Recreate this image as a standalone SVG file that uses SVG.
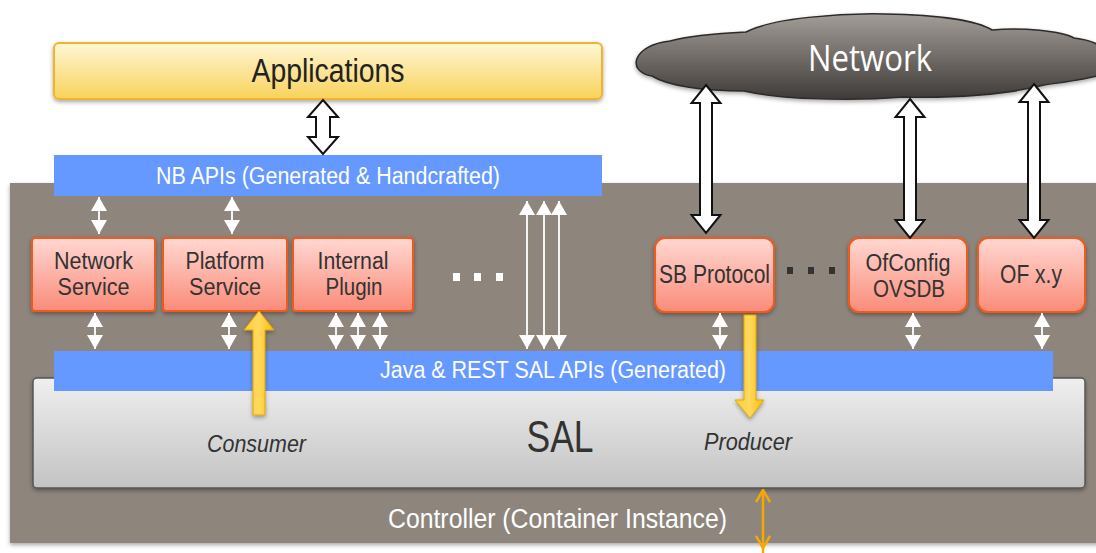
<svg xmlns="http://www.w3.org/2000/svg" width="1096" height="553" viewBox="0 0 1096 553">
<style>
  .t { font-family: "Liberation Sans Narrow", "Liberation Sans", Arial, sans-serif; }
  .wt { fill: #ffffff; }
  .dk { fill: #333333; }
  .box { stroke: #f05a1a; stroke-width: 2; fill: url(#gRed); filter: url(#sh); }
  .hollow { fill: #ffffff; stroke: #111111; stroke-width: 2; stroke-linejoin: miter; }
  .thin { stroke: #f4f4f4; stroke-width: 2; marker-start: url(#wh); marker-end: url(#wh); }
  .yel { fill: url(#gYel); stroke: #e3a400; stroke-width: 1; filter: url(#sh); }
  .api { fill: #6699ff; }
</style>
<defs>
  <linearGradient id="gApp" x1="0" y1="0" x2="0" y2="1">
    <stop offset="0" stop-color="#fff7d6"/>
    <stop offset="1" stop-color="#f8d25a"/>
  </linearGradient>
  <linearGradient id="gRed" x1="0" y1="0" x2="0" y2="1">
    <stop offset="0" stop-color="#ffd8d2"/>
    <stop offset="1" stop-color="#fa8b79"/>
  </linearGradient>
  <linearGradient id="gSal" x1="0" y1="0" x2="0" y2="1">
    <stop offset="0" stop-color="#efefef"/>
    <stop offset="1" stop-color="#c3c3c3"/>
  </linearGradient>
  <linearGradient id="gCloud" x1="0" y1="0" x2="0" y2="1">
    <stop offset="0" stop-color="#a39d98"/>
    <stop offset="1" stop-color="#3f3b38"/>
  </linearGradient>
  <linearGradient id="gYel" x1="0" y1="0" x2="1" y2="0">
    <stop offset="0" stop-color="#ffcc33"/>
    <stop offset="0.5" stop-color="#ffd95e"/>
    <stop offset="1" stop-color="#ffbb00"/>
  </linearGradient>
  <filter id="sh" x="-10%" y="-10%" width="120%" height="130%">
    <feDropShadow dx="0" dy="2" stdDeviation="2" flood-color="#000000" flood-opacity="0.35"/>
  </filter>
  <marker id="wh" viewBox="0 0 14 16" refX="14" refY="8" markerWidth="14" markerHeight="16" markerUnits="userSpaceOnUse" orient="auto-start-reverse">
    <path d="M0,0 L14,8 L0,16 Z" fill="#ffffff"/>
  </marker>
  <marker id="oh" viewBox="0 0 14 16" refX="13" refY="8" markerWidth="14" markerHeight="16" markerUnits="userSpaceOnUse" orient="auto-start-reverse">
    <path d="M1,1 L13,8 L1,15" fill="none" stroke="#f5a800" stroke-width="2.5"/>
  </marker>
</defs>

<!-- Controller container -->
<g id="controller">
  <rect x="10" y="183" width="1090" height="360" fill="#8e867d" filter="url(#sh)"/>
  <text class="t wt" x="557.5" y="528" font-size="27" text-anchor="middle" textLength="339" lengthAdjust="spacingAndGlyphs">Controller (Container Instance)</text>
</g>

<g id="applications">
  <rect x="54" y="43" width="548" height="56" rx="5" fill="url(#gApp)" stroke="#f5b32a" stroke-width="2" filter="url(#sh)"/>
  <text class="t" fill="#222" x="328" y="82" font-size="34" text-anchor="middle" textLength="153" lengthAdjust="spacingAndGlyphs">Applications</text>
</g>

<g id="nb-apis">
  <rect class="api" x="54" y="155" width="548" height="41"/>
  <text class="t wt" x="328" y="184" font-size="23" text-anchor="middle" textLength="344" lengthAdjust="spacingAndGlyphs">NB APIs (Generated &amp; Handcrafted)</text>
</g>

<g id="network">
  <path d="M652,76 C626,72 632,45 670,41 C692,35 726,33 746,32 C772,18 840,13 885,14 C940,15 978,21 992,30 C1022,27 1062,31 1074,38 C1092,40 1104,46 1104,52 L1104,74 C1086,80 1064,82 1044,85 C1004,95 954,98 904,97 C854,101 784,100 744,91 C704,91 668,86 652,76 Z" fill="url(#gCloud)" stroke="#2e2b29" stroke-width="1.5" filter="url(#sh)"/>
  <text x="870" y="71" font-family="'Open Sans', 'DejaVu Sans', sans-serif" font-size="37" fill="#ffffff" text-anchor="middle" textLength="124" lengthAdjust="spacingAndGlyphs">Network</text>
</g>

<g id="network-service">
  <rect class="box" x="32" y="238" width="123" height="73" rx="3"/>
  <text class="t dk" x="93.5" y="269" font-size="23" text-anchor="middle" textLength="79" lengthAdjust="spacingAndGlyphs">Network</text>
  <text class="t dk" x="93.5" y="295" font-size="23" text-anchor="middle" textLength="72" lengthAdjust="spacingAndGlyphs">Service</text>
</g>
<g id="platform-service">
  <rect class="box" x="163" y="238" width="124" height="73" rx="3"/>
  <text class="t dk" x="225" y="269" font-size="23" text-anchor="middle" textLength="79" lengthAdjust="spacingAndGlyphs">Platform</text>
  <text class="t dk" x="225" y="295" font-size="23" text-anchor="middle" textLength="72" lengthAdjust="spacingAndGlyphs">Service</text>
</g>
<g id="internal-plugin">
  <rect class="box" x="293" y="238" width="120" height="73" rx="3"/>
  <text class="t dk" x="353" y="269" font-size="23" text-anchor="middle" textLength="71" lengthAdjust="spacingAndGlyphs">Internal</text>
  <text class="t dk" x="354" y="295" font-size="23" text-anchor="middle" textLength="57" lengthAdjust="spacingAndGlyphs">Plugin</text>
</g>
<g id="dots-left" fill="#ffffff">
  <rect x="453" y="273" width="7" height="8"/>
  <rect x="474" y="273" width="7" height="8"/>
  <rect x="496" y="273" width="7" height="8"/>
</g>

<g id="sb-protocol">
  <rect class="box" x="655" y="238" width="119" height="74" rx="10"/>
  <text class="t dk" x="714.5" y="283" font-size="25" text-anchor="middle" textLength="111" lengthAdjust="spacingAndGlyphs">SB Protocol</text>
</g>
<g id="dots-right" fill="#333333">
  <rect x="787" y="267" width="6" height="7"/>
  <rect x="808" y="267" width="6" height="7"/>
  <rect x="829" y="267" width="6" height="7"/>
</g>
<g id="ofconfig-ovsdb">
  <rect class="box" x="849" y="238" width="118" height="74" rx="10"/>
  <text class="t dk" x="908" y="271" font-size="23" text-anchor="middle" textLength="85" lengthAdjust="spacingAndGlyphs">OfConfig</text>
  <text class="t dk" x="909" y="297" font-size="23" text-anchor="middle" textLength="72" lengthAdjust="spacingAndGlyphs">OVSDB</text>
</g>
<g id="of-xy">
  <rect class="box" x="978" y="238" width="107" height="74" rx="10"/>
  <text class="t dk" x="1031" y="283" font-size="25" text-anchor="middle" textLength="62" lengthAdjust="spacingAndGlyphs">OF x.y</text>
</g>

<g id="sal">
  <rect x="33" y="378" width="1052" height="110" rx="4" fill="url(#gSal)" stroke="#555555" stroke-width="1.5" filter="url(#sh)"/>
  <text class="t dk" x="560" y="452" font-size="44" text-anchor="middle" textLength="67" lengthAdjust="spacingAndGlyphs">SAL</text>
  <text class="t dk" x="256.5" y="452" font-size="23" font-style="italic" text-anchor="middle" textLength="99" lengthAdjust="spacingAndGlyphs">Consumer</text>
  <text class="t dk" x="748" y="450" font-size="23" font-style="italic" text-anchor="middle" textLength="88" lengthAdjust="spacingAndGlyphs">Producer</text>
</g>

<g id="sal-apis">
  <rect class="api" x="54" y="351" width="999" height="40"/>
  <text class="t wt" x="553" y="378" font-size="23" text-anchor="middle" textLength="346" lengthAdjust="spacingAndGlyphs">Java &amp; REST SAL APIs (Generated)</text>
</g>

<g id="connectors">
  <!-- hollow double arrows -->
  <polygon class="hollow" points="323,100 338,117 330,117 330,137 338,137 323,154 308,137 316,137 316,117 308,117"/>
  <polygon class="hollow" points="706,85 720.5,103 712,103 712,215 720.5,215 706,233 691.5,215 700,215 700,103 691.5,103"/>
  <polygon class="hollow" points="910,99 924.5,117 916,117 916,220 924.5,220 910,238 895.5,220 904,220 904,117 895.5,117"/>
  <polygon class="hollow" points="1034,84 1048.5,102 1040,102 1040,220 1048.5,220 1034,238 1019.5,220 1028,220 1028,102 1019.5,102"/>
  <!-- small white double arrows -->
  <line class="thin" x1="99" y1="197" x2="99" y2="234"/>
  <line class="thin" x1="232" y1="197" x2="232" y2="234"/>
  <line class="thin" x1="95" y1="313" x2="95" y2="349"/>
  <line class="thin" x1="229" y1="313" x2="229" y2="349"/>
  <line class="thin" x1="336" y1="313" x2="336" y2="349"/>
  <line class="thin" x1="358" y1="313" x2="358" y2="349"/>
  <line class="thin" x1="380" y1="313" x2="380" y2="349"/>
  <line class="thin" x1="720" y1="313" x2="720" y2="349"/>
  <line class="thin" x1="913" y1="313" x2="913" y2="349"/>
  <line class="thin" x1="1042" y1="313" x2="1042" y2="349"/>
  <line class="thin" x1="527" y1="201" x2="527" y2="349"/>
  <line class="thin" x1="544" y1="201" x2="544" y2="349"/>
  <line class="thin" x1="559" y1="201" x2="559" y2="349"/>
  <!-- yellow consumer / producer arrows -->
  <polygon class="yel" points="259,311 274,330 265,330 265,415 253,415 253,330 244,330"/>
  <polygon class="yel" points="744,315 756,315 756,400 764,400 750,418 735,400 744,400"/>
  <!-- orange controller arrow -->
  <line x1="763" y1="490" x2="763" y2="548" stroke="#f5a800" stroke-width="2.5" marker-start="url(#oh)" marker-end="url(#oh)"/>
  <line x1="763" y1="548" x2="763" y2="553" stroke="#f5a800" stroke-width="2.5"/>
</g>
</svg>
